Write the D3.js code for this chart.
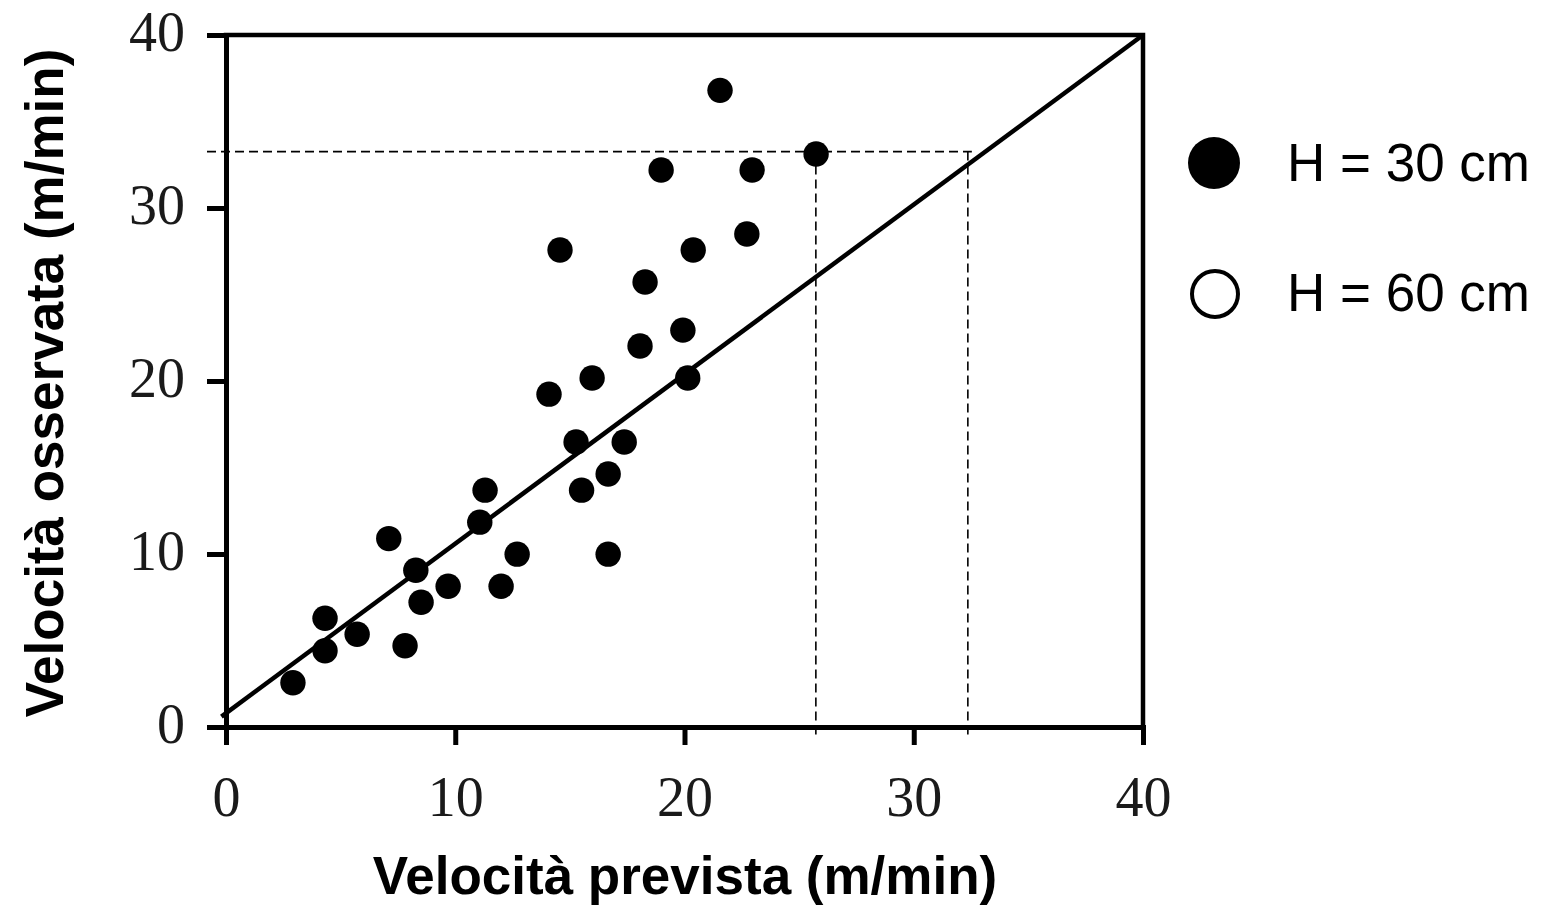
<!doctype html>
<html lang="it">
  <head>
    <meta charset="utf-8">
    <title>Velocità prevista vs osservata</title>
    <script src="https://d3js.org/d3.v7.min.js"></script>
    <style>
      body { margin: 0; background: #fff; }
      .tick text { font-family: "Liberation Serif", "Times New Roman", serif; font-size: 56px; fill: #1a1a1a; }
      .title { font-family: "Liberation Sans", Arial, sans-serif; font-weight: bold; font-size: 53px; fill: #000; }
      .legend { font-family: "Liberation Sans", Arial, sans-serif; font-size: 53px; fill: #000; }
    </style>
  </head>
  <body>
    <div id="chart"></div>
    <script>
      // values (m/min)
      const previsto = [2.92, 4.32, 4.32, 5.72, 7.10, 7.81, 8.28, 8.51, 9.69, 11.07, 11.30, 12.00, 12.70, 14.09, 14.57, 15.27,
        15.51, 15.97, 16.67, 16.67, 17.37, 18.06, 18.28, 18.98, 19.93, 20.14, 20.38, 21.55, 22.72, 22.95, 25.74]
      const osservato = [2.56, 4.41, 6.29, 5.36, 10.89, 4.70, 9.06, 7.21, 8.14, 11.84, 13.69, 8.14, 9.99, 19.24, 27.57, 16.47,
        13.69, 20.17, 14.62, 9.99, 16.47, 22.02, 25.72, 32.20, 22.94, 20.17, 27.57, 36.80, 28.50, 32.20, 33.12]
      const xTicks = [0, 10, 20, 30, 40]
      const yTicks = [0, 10, 20, 30, 40]
      const lineaRif = [[-0.2, 0.6], [39.9, 39.9]]
      // dashed guides: one observed value, two predicted values
      const guidaY = 33.26
      const guideX = [25.73, 32.36]
      const legendLabels = ["H = 30 cm", "H = 60 cm"]

      const width = 1541
      const height = 905
      const margin = {top: 35, right: 398, bottom: 178, left: 226}

      const svg = d3.select("#chart").append("svg")
        .attr("width", width)
        .attr("height", height)

      const x = d3.scaleLinear().domain([0, 40]).range([margin.left, width - margin.right])
      const y = d3.scaleLinear().domain([0, 40]).range([height - margin.bottom, margin.top])

      // dashed guides
      const guides = svg.append("g")
        .attr("stroke", "#000")
        .attr("stroke-width", 1.6)
        .attr("stroke-dasharray", "9,5")
      guides.append("line")
        .attr("x1", x(0) - 19).attr("x2", x(d3.max(guideX)) + 4)
        .attr("y1", y(guidaY)).attr("y2", y(guidaY))
      guides.selectAll(".v").data(guideX).join("line")
        .attr("x1", d => x(d)).attr("x2", d => x(d))
        .attr("y1", y(guidaY)).attr("y2", y(0) + 8)

      // frame top + right
      svg.append("path")
        .attr("d", `M${x(0)},${y(40)}H${x(40)}V${y(0)}`)
        .attr("fill", "none")
        .attr("stroke", "#000")
        .attr("stroke-width", 4.5)
        .attr("stroke-linecap", "square")

      const xAxis = svg.append("g")
        .attr("transform", `translate(0,${y(0)})`)
        .call(d3.axisBottom(x).tickValues(xTicks).tickSize(18).tickSizeOuter(0).tickPadding(31))
      const yAxis = svg.append("g")
        .attr("transform", `translate(${x(0)},0)`)
        .call(d3.axisLeft(y).tickValues(yTicks).tickSize(19).tickSizeOuter(0).tickPadding(22))
      yAxis.selectAll(".tick text").attr("dy", "0.27em")

      for (const ax of [xAxis, yAxis]) {
        ax.select(".domain").attr("stroke-width", 5).attr("stroke-linecap", "square")
        ax.selectAll(".tick line").attr("stroke-width", 5)
        ax.attr("font-family", null).attr("font-size", null)
      }

      // 1:1 line
      svg.append("path")
        .datum(lineaRif)
        .attr("d", d3.line().x(d => x(d[0])).y(d => y(d[1])))
        .attr("fill", "none")
        .attr("stroke", "#000")
        .attr("stroke-width", 4.5)

      // points
      svg.append("g").selectAll("circle")
        .data(previsto.map((v, i) => [v, osservato[i]]))
        .join("circle")
        .attr("cx", d => x(d[0]))
        .attr("cy", d => y(d[1]))
        .attr("r", 12.7)
        .attr("fill", "#000")

      // titles
      svg.append("text")
        .attr("class", "title")
        .attr("x", 685)
        .attr("y", 894)
        .attr("text-anchor", "middle")
        .text("Velocità prevista (m/min)")
      svg.append("text")
        .attr("class", "title")
        .attr("transform", "translate(63,383) rotate(-90)")
        .attr("text-anchor", "middle")
        .text("Velocità osservata (m/min)")

      // legend
      const legend = svg.append("g")
      legend.append("circle").attr("cx", 1214).attr("cy", 163).attr("r", 26).attr("fill", "#000")
      legend.append("circle").attr("cx", 1215).attr("cy", 294).attr("r", 23)
        .attr("fill", "#fff").attr("stroke", "#000").attr("stroke-width", 4)
      legend.selectAll("text").data(legendLabels).join("text")
        .attr("class", "legend")
        .attr("x", 1287)
        .attr("y", (d, i) => 181 + i * 130)
        .text(d => d)
    </script>
  </body>
</html>
